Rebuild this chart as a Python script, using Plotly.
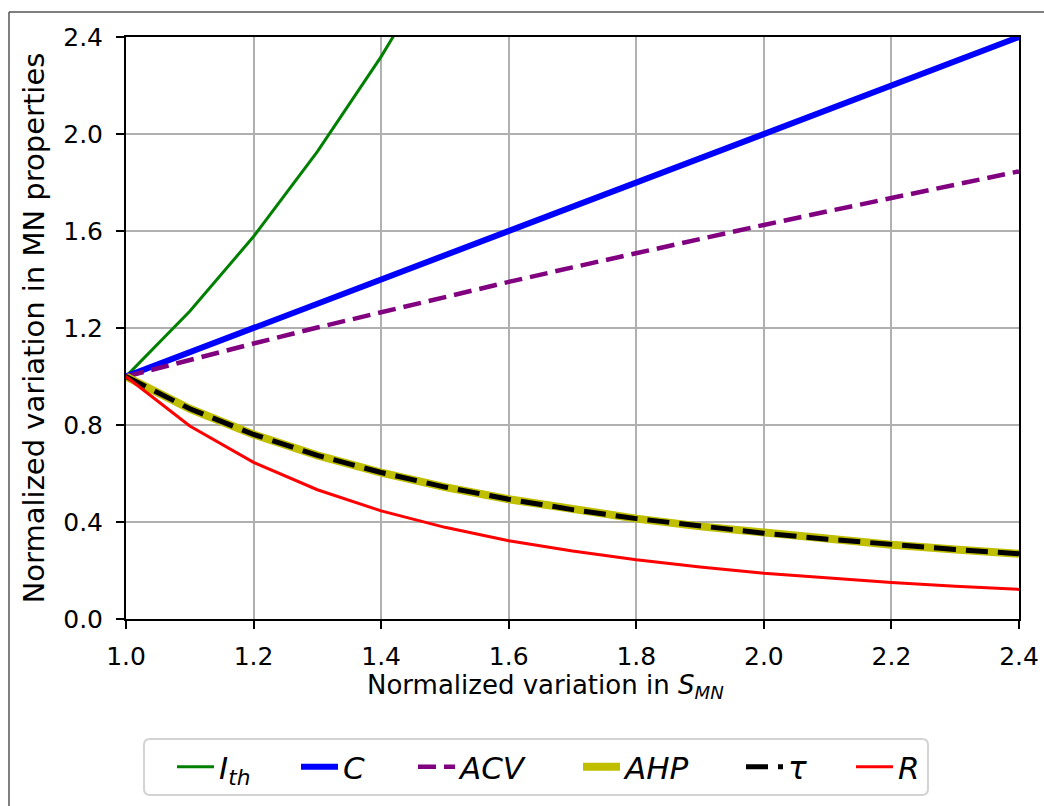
import plotly.graph_objects as go

# Data
x_vals = [1.0, 1.1, 1.2, 1.3, 1.4, 1.5, 1.6, 1.7, 1.8, 1.9, 2.0, 2.1, 2.2, 2.3, 2.4]
ith_vals = [1.0, 1.269, 1.577, 1.927, 2.319, 2.756, 3.238, 3.768, 4.347, 4.976, 5.657, 6.391, 7.179, 8.023, 8.923]
c_vals = [1.0, 1.1, 1.2, 1.3, 1.4, 1.5, 1.6, 1.7, 1.8, 1.9, 2.0, 2.1, 2.2, 2.3, 2.4]
acv_vals = [1.0, 1.069, 1.136, 1.202, 1.266, 1.328, 1.390, 1.450, 1.509, 1.567, 1.625, 1.681, 1.737, 1.792, 1.846]
ahp_vals = [1.0, 0.867, 0.761, 0.675, 0.604, 0.544, 0.494, 0.451, 0.414, 0.382, 0.354, 0.329, 0.306, 0.287, 0.269]
tau_vals = [1.0, 0.867, 0.761, 0.675, 0.604, 0.544, 0.494, 0.451, 0.414, 0.382, 0.354, 0.329, 0.306, 0.287, 0.269]
r_vals = [1.0, 0.796, 0.646, 0.533, 0.446, 0.378, 0.323, 0.280, 0.244, 0.214, 0.189, 0.169, 0.151, 0.135, 0.122]

tick_vals_x = [1.0, 1.2, 1.4, 1.6, 1.8, 2.0, 2.2, 2.4]
tick_vals_y = [0.0, 0.4, 0.8, 1.2, 1.6, 2.0, 2.4]

x_title = "Normalized variation in <i>S</i><sub><i>MN</i></sub>"
y_title = "Normalized variation in MN properties"

series = [
    ("<i>I</i><sub><i>th</i></sub>", ith_vals, "#008000", 3, "solid"),
    ("<i>C</i>", c_vals, "#0000ff", 6, "solid"),
    ("<i>ACV</i>", acv_vals, "#800080", 4.5, "18px,8px"),
    ("<i>AHP</i>", ahp_vals, "#bfbf00", 8, "solid"),
    ("<i>τ</i>", tau_vals, "#000000", 5, "22px,10px"),
    ("<i>R</i>", r_vals, "#ff0000", 3, "solid"),
]

W, H = 1044, 806
L, R, T, B = 126, 25, 37, 187
pw, ph = W - L - R, H - T - B

def px(xp):
    return (xp - L) / pw

def py(yp):
    return (H - B - yp) / ph

font_family = "DejaVu Sans"

# legend text start positions (pixels) in the reference
legend_text_x = [219, 343, 460, 625, 788, 898]
legend_cy = 767
ITEMW = 37
TEXT_OFF = ITEMW + 10  # offset of legend text from the legend origin

fig = go.Figure()
legends = {}
for i, (name, vals, color, width, dash) in enumerate(series):
    lname = "legend" if i == 0 else f"legend{i + 1}"
    fig.add_trace(go.Scatter(
        x=x_vals, y=vals, name=name, mode="lines",
        line=dict(color=color, width=width, dash=dash),
        legend=lname,
    ))
    legends[lname] = dict(
        orientation="h",
        xref="container", yref="container",
        x=(legend_text_x[i] - TEXT_OFF) / W, xanchor="left",
        y=1 - legend_cy / H, yanchor="middle",
        borderwidth=0, bgcolor="rgba(0,0,0,0)",
        font=dict(family=font_family, size=31, color="black"),
        itemwidth=ITEMW,
    )

# rounded legend frame
bx0, bx1, by0, by1, rad = 144, 928, 739, 795, 6
def P(xp, yp):
    return f"{px(xp):.5f},{py(yp):.5f}"
frame_path = (
    f"M{P(bx0 + rad, by0)} L{P(bx1 - rad, by0)} Q{P(bx1, by0)} {P(bx1, by0 + rad)} "
    f"L{P(bx1, by1 - rad)} Q{P(bx1, by1)} {P(bx1 - rad, by1)} "
    f"L{P(bx0 + rad, by1)} Q{P(bx0, by1)} {P(bx0, by1 - rad)} "
    f"L{P(bx0, by0 + rad)} Q{P(bx0, by0)} {P(bx0 + rad, by0)} Z"
)

fig.update_layout(
    width=W, height=H,
    margin=dict(l=L, r=R, t=T, b=B, autoexpand=False),
    paper_bgcolor="white", plot_bgcolor="white",
    font=dict(family=font_family, size=24, color="black"),
    showlegend=True,
    xaxis=dict(
        range=[1.0, 2.4], tickvals=tick_vals_x,
        ticktext=[f"{v:.1f}" for v in tick_vals_x],
        showgrid=True, gridcolor="#b0b0b0", gridwidth=1.5,
        showline=True, linecolor="black", linewidth=2, mirror=True,
        ticks="outside", ticklen=8, tickwidth=2, tickcolor="black",
        ticklabelstandoff=6, automargin=False,
        zeroline=False,
        tickfont=dict(size=25),
    ),
    yaxis=dict(
        range=[0.0, 2.4], tickvals=tick_vals_y,
        ticktext=[f"{v:.1f}" for v in tick_vals_y],
        showgrid=True, gridcolor="#b0b0b0", gridwidth=1.5,
        showline=True, linecolor="black", linewidth=2, mirror=True,
        ticks="outside", ticklen=8, tickwidth=2, tickcolor="black",
        ticklabelstandoff=8, automargin=False,
        zeroline=False,
        tickfont=dict(size=25),
        title=dict(text=y_title, font=dict(size=29), standoff=10),
    ),
    annotations=[
        dict(text=x_title, xref="paper", yref="paper",
             x=px(545), y=py(686), xanchor="center", yanchor="middle",
             showarrow=False, font=dict(size=26, family=font_family, color="black")),
    ],
    shapes=[
        dict(type="line", xref="paper", yref="paper",
             x0=px(9), x1=px(W + 5), y0=py(12), y1=py(12),
             line=dict(color="#555555", width=1.5)),
        dict(type="line", xref="paper", yref="paper",
             x0=px(9), x1=px(9), y0=py(12), y1=py(H + 5),
             line=dict(color="#555555", width=1.5)),
        dict(type="path", xref="paper", yref="paper", path=frame_path,
             line=dict(color="#d3d3d3", width=2), fillcolor="rgba(0,0,0,0)",
             layer="below"),
    ],
    **legends,
)

fig.write_html("out.html")
